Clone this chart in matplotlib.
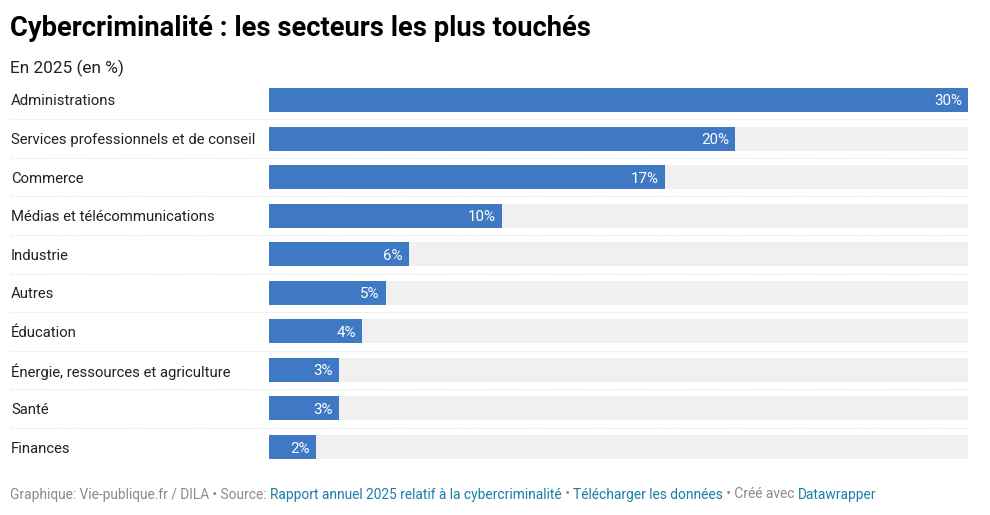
import matplotlib
matplotlib.use("Agg")
import matplotlib.pyplot as plt
from matplotlib.transforms import blended_transform_factory, offset_copy

categories = ["Administrations", "Services professionnels et de conseil", "Commerce",
              "Médias et télécommunications", "Industrie", "Autres", "Éducation",
              "Énergie, ressources et agriculture", "Santé", "Finances"]
values = [30, 20, 17, 10, 6, 5, 4, 3, 3, 2]
value_labels = ["30%", "20%", "17%", "10%", "6%", "5%", "4%", "3%", "3%", "2%"]

title = "Cybercriminalité : les secteurs les plus touchés"
subtitle = "En 2025 (en %)"
footer_parts = [("Graphique: Vie-publique.fr / DILA • Source: ", "#8a8a8a"),
                ("Rapport annuel 2025 relatif à la cybercriminalité", "#1b7fa6"),
                (" • ", "#8a8a8a"),
                ("Télécharger les données", "#1b7fa6"),
                (" • Créé avec ", "#8a8a8a"),
                ("Datawrapper", "#1b7fa6")]

plt.rcParams['font.family'] = ['Roboto', 'DejaVu Sans']

W, H = 990, 515
fig = plt.figure(figsize=(W / 100, H / 100), dpi=100)
fig.patch.set_facecolor("white")

h = 0.622
n = len(categories)
top_px, bot_px = 88, 459
ax = fig.add_axes([269 / W, (H - bot_px) / H, (968 - 269) / W, (bot_px - top_px) / H])
vmax = max(values)
ypos = list(range(n))
ax.barh(ypos, [vmax] * n, height=h, color="#f0f0f0", zorder=1)
ax.barh(ypos, values, height=h, color="#4079c3", zorder=2)
ax.set_xlim(0, vmax)
ax.set_ylim(n - 1 + h / 2, -h / 2)
ax.axis("off")

for y, v, lab in zip(ypos, values, value_labels):
    t = offset_copy(ax.transData, fig=fig, x=-6, y=0, units="dots")
    ax.text(v, y, lab, transform=t, ha="right", va="center_baseline",
            color="white", fontsize=10.9, zorder=3)

bt = blended_transform_factory(fig.transFigure, ax.transData)
for y, c in zip(ypos, categories):
    ax.text(11 / W, y, c, transform=bt, ha="left", va="center_baseline",
            fontsize=10.75, color="#222222")

for i in range(n - 1):
    ax.plot([10 / W, 968 / W], [i + 0.5, i + 0.5], transform=bt, clip_on=False,
            color="#dcdcdc", lw=0.8, ls=(0, (1, 1.5)), zorder=0)

fig.text(10 / W, 1 - 26 / H, title, fontsize=19.7, fontweight="bold",
         ha="left", va="center_baseline", color="#000000")
fig.text(10 / W, 1 - 66 / H, subtitle, fontsize=12.4, ha="left",
         va="center_baseline", color="#222222")

fig.canvas.draw()
renderer = fig.canvas.get_renderer()
x = 10
for txt, col in footer_parts:
    t = fig.text(x / W, 1 - 493 / H, txt, fontsize=9.9, color=col, ha="left",
                 va="center_baseline")
    bb = t.get_window_extent(renderer=renderer)
    x += bb.width

fig.savefig("out.png", dpi=100)
